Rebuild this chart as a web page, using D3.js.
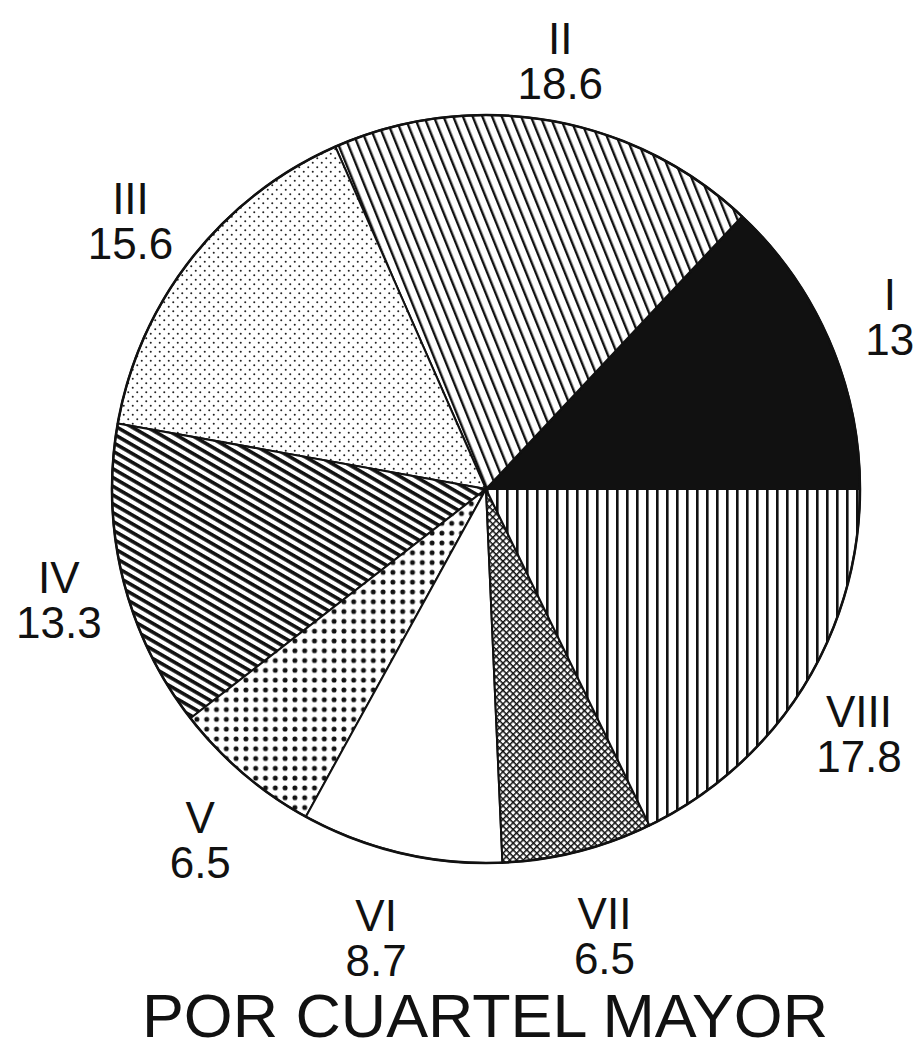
<!DOCTYPE html>
<html>
<head>
<meta charset="utf-8">
<script src="https://cdn.jsdelivr.net/npm/d3@7/dist/d3.min.js"></script>
<style>
  html, body { margin: 0; padding: 0; background: #fff; }
  svg { display: block; }
  text { font-family: "Liberation Sans", Arial, sans-serif; fill: #111; }
</style>
</head>
<body>
<svg id="chart" width="920" height="1050"></svg>
<script>
// ---- data ----
const categories = ["I", "II", "III", "IV", "V", "VI", "VII", "VIII"];
const values = [13, 18.6, 15.6, 13.3, 6.5, 8.7, 6.5, 17.8];
const valueLabels = ["13", "18.6", "15.6", "13.3", "6.5", "8.7", "6.5", "17.8"];
const fills = ["solid", "pII", "pIII", "pIV", "pV", "white", "pVII", "pVIII"];
const title = "POR CUARTEL MAYOR";

// ---- layout ----
const W = 920, H = 1050;
const cx = 486, cy = 489, R = 374;
const svg = d3.select("#chart");
const defs = svg.append("defs");

function linePattern(id, spacing, stroke, angle, vertical) {
  const p = defs.append("pattern").attr("id", id)
    .attr("patternUnits", "userSpaceOnUse")
    .attr("width", spacing).attr("height", spacing)
    .attr("patternTransform", `rotate(${angle})`);
  p.append("rect").attr("width", spacing).attr("height", spacing).attr("fill", "#fff");
  if (vertical) {
    p.append("rect").attr("x", 0).attr("y", 0).attr("width", stroke).attr("height", spacing).attr("fill", "#111");
  } else {
    p.append("rect").attr("x", 0).attr("y", 0).attr("width", spacing).attr("height", stroke).attr("fill", "#111");
  }
}
// II: steep "\" lines
linePattern("pII", 9, 2.4, -22, true);
// IV: dense "\" lines ~30deg
linePattern("pIV", 7.6, 3.6, 30, false);
// VIII: vertical lines
linePattern("pVIII", 10, 2.6, 0, true);

// VII: crosshatch
{
  const s = 4.8;
  const p = defs.append("pattern").attr("id", "pVII")
    .attr("patternUnits", "userSpaceOnUse")
    .attr("width", s).attr("height", s)
    .attr("patternTransform", "rotate(45)");
  p.append("rect").attr("width", s).attr("height", s).attr("fill", "#fff");
  p.append("rect").attr("x", 0).attr("y", 0).attr("width", s).attr("height", 1.5).attr("fill", "#111");
  p.append("rect").attr("x", 0).attr("y", 0).attr("width", 1.5).attr("height", s).attr("fill", "#111");
}
// III: fine staggered dots
{
  const s = 9;
  const p = defs.append("pattern").attr("id", "pIII")
    .attr("patternUnits", "userSpaceOnUse")
    .attr("width", s).attr("height", s);
  p.append("rect").attr("width", s).attr("height", s).attr("fill", "#fff");
  p.append("circle").attr("cx", s / 4).attr("cy", s / 4).attr("r", 1.0).attr("fill", "#222");
  p.append("circle").attr("cx", 3 * s / 4).attr("cy", 3 * s / 4).attr("r", 1.0).attr("fill", "#222");
}
// V: bold dots grid
{
  const s = 9.8;
  const p = defs.append("pattern").attr("id", "pV")
    .attr("patternUnits", "userSpaceOnUse")
    .attr("width", s).attr("height", s);
  p.append("rect").attr("width", s).attr("height", s).attr("fill", "#fff");
  p.append("circle").attr("cx", s / 2).attr("cy", s / 2).attr("r", 2.5).attr("fill", "#111");
}

function fillOf(f) {
  if (f === "solid") return "#111";
  if (f === "white") return "#fff";
  return `url(#${f})`;
}

// pie: counter-clockwise from 3 o'clock
const pie = d3.pie().sort(null).value(d => d)
  .startAngle(Math.PI / 2).endAngle(Math.PI / 2 - 2 * Math.PI);
const arcs = pie(values);
const arc = d3.arc().innerRadius(0).outerRadius(R);

const g = svg.append("g").attr("transform", `translate(${cx},${cy})`);
g.selectAll("path.slice").data(arcs).join("path")
  .attr("class", "slice")
  .attr("d", arc)
  .attr("fill", (d, i) => fillOf(fills[i]))
  .attr("stroke", "#111")
  .attr("stroke-width", 2)
  .attr("stroke-linejoin", "round");

g.append("circle").attr("r", R).attr("fill", "none").attr("stroke", "#111").attr("stroke-width", 2.5);

// labels
const lab = svg.append("g");
arcs.forEach((d, i) => {
  const m = (d.startAngle + d.endAngle) / 2;
  const sx = Math.sin(m), cyv = -Math.cos(m);
  const ry = cyv > 0 ? 460 : 435;
  const rx = 440 + 250 * Math.max(0, cyv - 0.8) + 25 * Math.max(0, -sx) * Math.max(0, -cyv);
  const x = cx + rx * sx;
  const y = cy + ry * cyv;
  const t = lab.append("text").attr("text-anchor", "middle").attr("font-size", 44);
  t.append("tspan").attr("x", x).attr("y", y - 6).text(categories[i]);
  t.append("tspan").attr("x", x).attr("y", y + 39).text(valueLabels[i]);
});

// title
svg.append("text")
  .attr("x", 142).attr("y", 1037)
  .attr("font-size", 62)
  .attr("textLength", 686)
  .attr("lengthAdjust", "spacingAndGlyphs")
  .text(title);
</script>
</body>
</html>
